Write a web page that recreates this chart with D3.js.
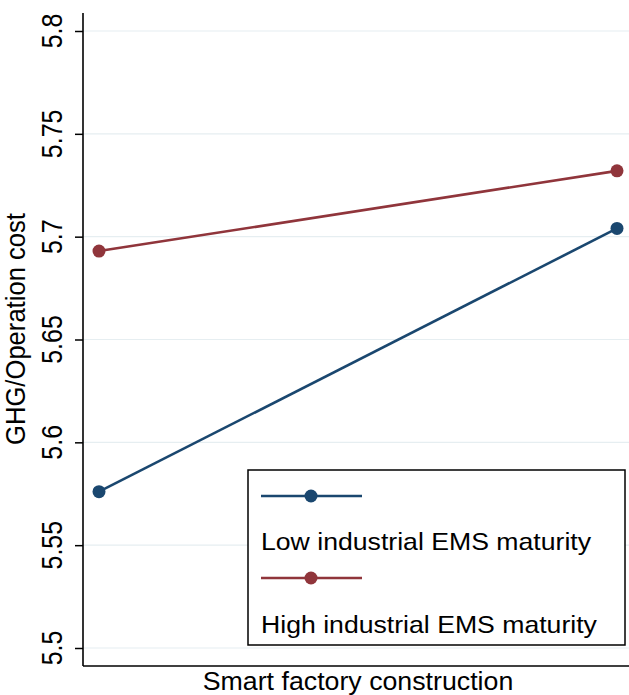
<!DOCTYPE html>
<html>
<head>
<meta charset="utf-8">
<script src="https://cdn.jsdelivr.net/npm/d3@7"></script>
<style>
  html, body { margin: 0; padding: 0; background: #fff; }
  svg { display: block; }
  text { font-family: "Liberation Sans", Arial, sans-serif; fill: #000; }
</style>
</head>
<body>
<script>
// Predicted GHG / operation cost at the two levels of smart factory construction
const xLevels = [0, 1];
const seriesNames = ["Low industrial EMS maturity", "High industrial EMS maturity"];
const lowEMS = [5.576, 5.704];
const highEMS = [5.693, 5.732];
const seriesColors = ["#1a476f", "#90353b"];
const yTicks = [5.5, 5.55, 5.6, 5.65, 5.7, 5.75, 5.8];
const yTickLabels = ["5.5", "5.55", "5.6", "5.65", "5.7", "5.75", "5.8"];
const xTitle = "Smart factory construction";
const yTitle = "GHG/Operation cost";

const W = 629, H = 695;
const svg = d3.select("body").append("svg").attr("width", W).attr("height", H);

const axisX = 83, axisBottom = 666, axisTop = 13;
const x = d3.scaleLinear().domain([0, 1]).range([99, 617]);
const y = d3.scaleLinear().domain([5.5, 5.8]).range([648, 31]);

// light horizontal grid at each tick
svg.append("g").selectAll("line").data(yTicks).join("line")
  .attr("x1", axisX).attr("x2", W)
  .attr("y1", d => y(d)).attr("y2", d => y(d))
  .attr("stroke", "#e6eef1").attr("stroke-width", 1.2);

// left axis
const yAxis = d3.axisLeft(y).tickValues(yTicks).tickSize(8).tickFormat("");
const gy = svg.append("g").attr("transform", `translate(${axisX},0)`).call(yAxis);
gy.select(".domain").remove();
gy.selectAll(".tick line").attr("stroke", "#000").attr("stroke-width", 1.5);
svg.append("line").attr("x1", axisX).attr("x2", axisX)
  .attr("y1", axisTop).attr("y2", axisBottom)
  .attr("stroke", "#000").attr("stroke-width", 1.6);

// rotated tick labels
svg.append("g").selectAll("text").data(yTicks).join("text")
  .attr("transform", (d) => `translate(62,${y(d)}) scale(1.2,1) rotate(-90)`)
  .attr("text-anchor", "middle")
  .attr("font-size", 25)
  .text((d, i) => yTickLabels[i]);

// bottom axis line
svg.append("line").attr("x1", axisX).attr("x2", W)
  .attr("y1", axisBottom).attr("y2", axisBottom)
  .attr("stroke", "#000").attr("stroke-width", 1.6);

// axis titles
svg.append("text")
  .attr("transform", `translate(358,690) scale(1.07,1)`)
  .attr("text-anchor", "middle").attr("font-size", 25)
  .text(xTitle);
svg.append("text")
  .attr("transform", `translate(25,329) scale(1.1,1) rotate(-90)`)
  .attr("text-anchor", "middle").attr("font-size", 25.6)
  .text(yTitle);

// series lines and markers
const series = [lowEMS, highEMS];
const line = d3.line().x((d, i) => x(xLevels[i])).y(d => y(d));
series.forEach((vals, s) => {
  svg.append("path").datum(vals)
    .attr("d", line).attr("fill", "none")
    .attr("stroke", seriesColors[s]).attr("stroke-width", 2.6);
  svg.append("g").selectAll("circle").data(vals).join("circle")
    .attr("cx", (d, i) => x(xLevels[i])).attr("cy", d => y(d))
    .attr("r", 6.5).attr("fill", seriesColors[s]);
});

// legend
const lg = svg.append("g");
lg.append("rect").attr("x", 248).attr("y", 470).attr("width", 377).attr("height", 175)
  .attr("fill", "#fff").attr("stroke", "#000").attr("stroke-width", 1.5);
const keyY = [496, 578], labelY = [550, 633];
seriesNames.forEach((name, s) => {
  lg.append("line").attr("x1", 261).attr("x2", 362)
    .attr("y1", keyY[s]).attr("y2", keyY[s])
    .attr("stroke", seriesColors[s]).attr("stroke-width", 2.6);
  lg.append("circle").attr("cx", 311).attr("cy", keyY[s]).attr("r", 6.5)
    .attr("fill", seriesColors[s]);
  lg.append("text")
    .attr("transform", `translate(261,${labelY[s]}) scale(1.11,1)`)
    .attr("font-size", 24).text(name);
});
</script>
</body>
</html>
